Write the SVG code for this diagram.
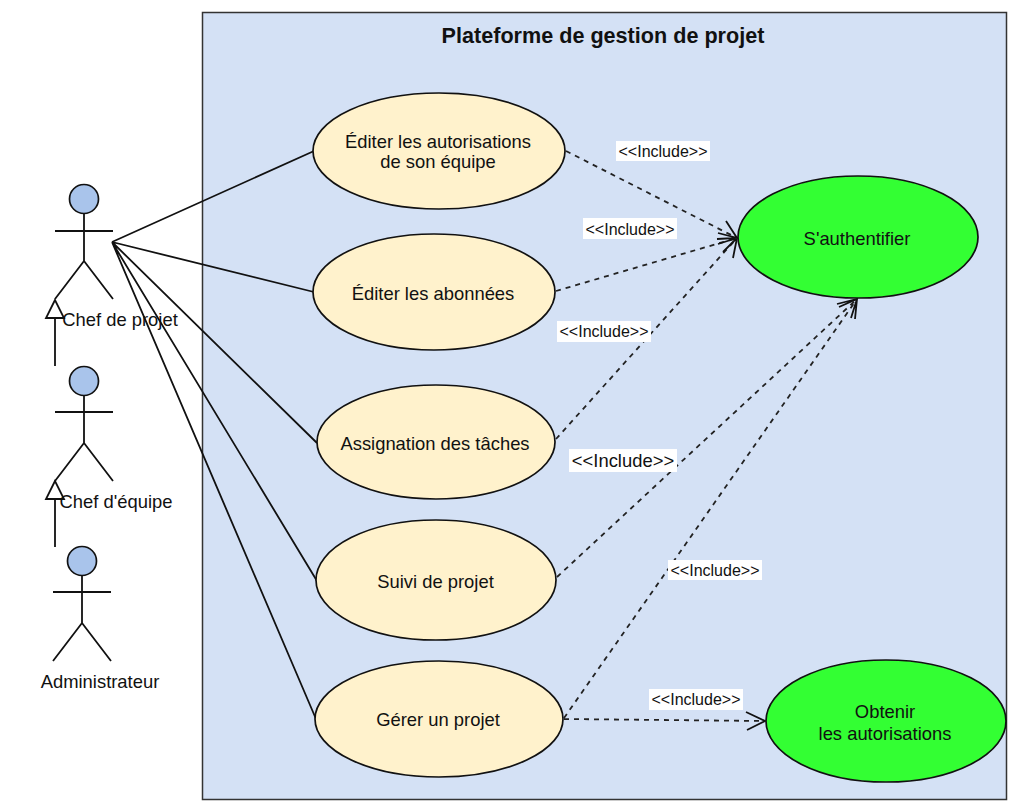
<svg xmlns="http://www.w3.org/2000/svg" width="1018" height="808" viewBox="0 0 1018 808">
<style>
text{font-family:"Liberation Sans",Arial,sans-serif;font-size:18.4px;fill:#111;text-anchor:middle}
.title{font-size:21.6px;font-weight:bold}
.inc{font-size:16px}
.lb{fill:#fff}
.uc{fill:#fff2cc;stroke:#111;stroke-width:1.7}
.gr{fill:#33ff33;stroke:#111;stroke-width:1.7}
.head{fill:#a9c4eb;stroke:#111;stroke-width:1.7}
.st{fill:none;stroke:#111;stroke-width:1.8}
.assoc{fill:none;stroke:#111;stroke-width:1.8}
.dash{fill:none;stroke:#222;stroke-width:1.8;stroke-dasharray:5 5}
.ah{fill:none;stroke:#111;stroke-width:1.8}
</style>
<rect id="boundary" x="202.500" y="12.500" width="804" height="787" fill="#d4e1f5" stroke="#333" stroke-width="1.500"/>
<text class="title" x="603" y="42.500">Plateforme de gestion de projet</text>

<g id="connectors">
<path class="assoc" d="M112 242L314 151M112 242L314 292M112 242L317 443M112 242L317 581M112 242L316 719"/>
<path class="st" d="M55 366V318M55 547V499"/>
<path class="st" d="M55 300L46 318H64Z"/>
<path class="st" d="M55 481L46 499H64Z"/>
<path class="dash" d="M566 151L737 238M556 291L737 238M556 439L737 238M557 577L857 299M564 718L857 299M564 719L765 721"/>
<path class="ah" d="M726 221L737 238L717 239M718 233L737 238L723 252M718 244L737 238L733 258"/>
<path class="ah" d="M837 304L857 299L851 318M839 307L857 299L855 319"/>
<path class="ah" d="M746 712L765 721L747 730"/>
</g>

<g id="actor-chef-projet">
<circle class="head" cx="84" cy="199" r="14.500"/>
<path class="st" d="M84 214V261M55 231H113M84 261L55 299M84 261L113 299"/>
<text x="120" y="325.500">Chef de projet</text>
</g>
<g id="actor-chef-equipe">
<circle class="head" cx="84" cy="381" r="14.500"/>
<path class="st" d="M84 396V443M55 412H113M84 443L55 481M84 443L113 481"/>
<text x="116" y="507.500">Chef d'équipe</text>
</g>
<g id="actor-admin">
<circle class="head" cx="82" cy="561" r="14.500"/>
<path class="st" d="M82 576V623M53 592H111M82 623L53 661M82 623L111 661"/>
<text x="100" y="687.500">Administrateur</text>
</g>

<g id="uc-editer-autorisations">
<ellipse class="uc" cx="439" cy="151" rx="126" ry="58"/>
<text x="438" y="147.500">Éditer les autorisations</text>
<text x="438" y="168">de son équipe</text>
</g>
<g id="uc-editer-abonnees">
<ellipse class="uc" cx="434" cy="292" rx="121" ry="58"/>
<text x="433" y="299.500">Éditer les abonnées</text>
</g>
<g id="uc-assignation">
<ellipse class="uc" cx="436" cy="442" rx="119" ry="57"/>
<text x="435" y="449.500">Assignation des tâches</text>
</g>
<g id="uc-suivi">
<ellipse class="uc" cx="436" cy="580" rx="120" ry="60"/>
<text x="435.500" y="587.500">Suivi de projet</text>
</g>
<g id="uc-gerer">
<ellipse class="uc" cx="439" cy="719" rx="124" ry="58"/>
<text x="438" y="725.500">Gérer un projet</text>
</g>
<g id="uc-authentifier">
<ellipse class="gr" cx="858" cy="237" rx="120" ry="61"/>
<text x="857" y="244.500">S'authentifier</text>
</g>
<g id="uc-obtenir">
<ellipse class="gr" cx="886" cy="721" rx="120" ry="61"/>
<text x="885" y="717.500">Obtenir</text>
<text x="885" y="739.500">les autorisations</text>
</g>

<g id="labels">
<rect class="lb" x="616" y="141" width="94" height="20"/><text class="inc" x="663" y="156.500">&lt;&lt;Include&gt;&gt;</text>
<rect class="lb" x="583" y="218" width="94" height="21"/><text class="inc" x="630" y="234.500">&lt;&lt;Include&gt;&gt;</text>
<rect class="lb" x="557" y="321" width="94" height="21"/><text class="inc" x="604" y="336.500">&lt;&lt;Include&gt;&gt;</text>
<rect class="lb" x="569" y="449" width="108" height="23"/><text x="623" y="466.500">&lt;&lt;Include&gt;&gt;</text>
<rect class="lb" x="668" y="560" width="94" height="20"/><text class="inc" x="715" y="575.500">&lt;&lt;Include&gt;&gt;</text>
<rect class="lb" x="649" y="689" width="94" height="21"/><text class="inc" x="696" y="704.500">&lt;&lt;Include&gt;&gt;</text>
</g>
</svg>
